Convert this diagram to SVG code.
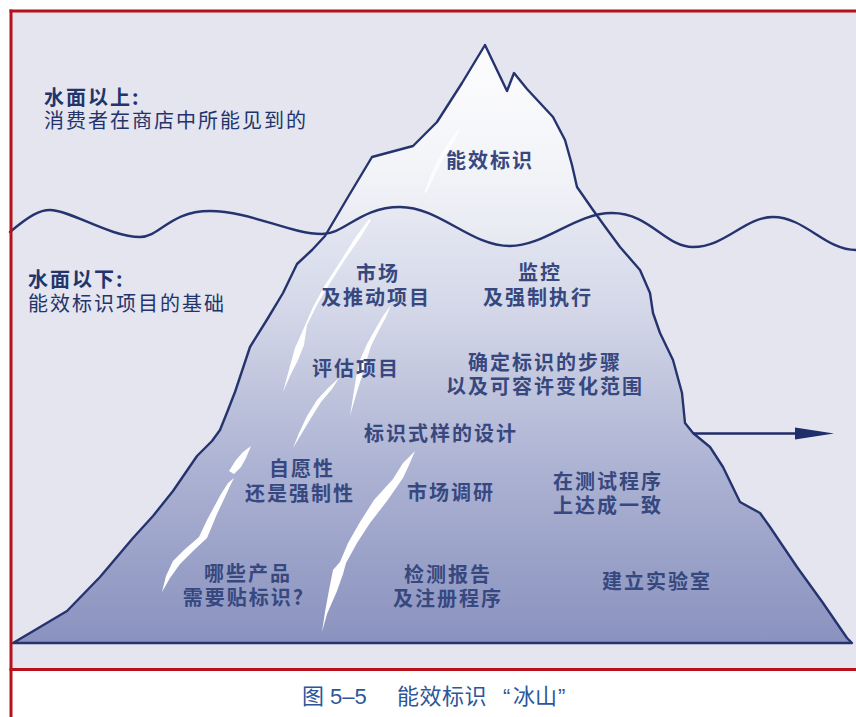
<svg xmlns="http://www.w3.org/2000/svg" width="856" height="717" viewBox="0 0 856 717">
  <defs>
    <style>
      .outline { fill: none; stroke: #25346f; stroke-width: 2.4; stroke-linejoin: round; stroke-linecap: round; }
      .head { font-family: "Noto Sans CJK SC", "Noto Sans", sans-serif; font-size: 20px; letter-spacing: 2px; fill: #23346c; }
      .lbl { font-family: "Noto Sans CJK SC", "Noto Sans", sans-serif; font-size: 20px; letter-spacing: 2px; font-weight: 700; fill: #37487f; text-anchor: middle; }
      .cap { font-family: "Liberation Sans", "Noto Sans CJK SC", sans-serif; font-size: 22px; fill: #2b579a; }
      .capcjk { font-family: "Noto Sans CJK SC", sans-serif; font-size: 22px; fill: #2b579a; }
      .streak { fill: #ffffff; }
    </style>
    <linearGradient id="under" x1="0" y1="200" x2="0" y2="643" gradientUnits="userSpaceOnUse">
      <stop offset="0" stop-color="#e8eaf3"/>
      <stop offset="0.25" stop-color="#d3d7e8"/>
      <stop offset="0.6" stop-color="#adb3d3"/>
      <stop offset="1" stop-color="#8a92bf"/>
    </linearGradient>
    <linearGradient id="above" x1="0" y1="45" x2="0" y2="250" gradientUnits="userSpaceOnUse">
      <stop offset="0" stop-color="#fdfdfe"/>
      <stop offset="0.6" stop-color="#f3f4f8"/>
      <stop offset="1" stop-color="#e6e8f1"/>
    </linearGradient>
    <clipPath id="airClip">
      <path d="M10,232 C30,215 40,210 50,210 C70,210 110,237 140,237 C160,237 170,211 210,211 C250,211 290,234 322,234 C345,234 360,207 400,207 C440,207 470,246 510,246 C545,246 575,213 612,213 C650,213 665,247 693,247 C725,247 745,217 773,217 C805,217 825,250 856,250 L856,0 L10,0 Z"/>
    </clipPath>
    <path id="bergShape" d="M13,643 L35,630 L67,611 L100,577 L133,538 L153,516 L173,491 L197,456 L212,441 L220,430 L228,410 L235,392 L250,347 L268,318 L283,293 L297,264 L312,250 L325,236 L348,197 L372,157 L413,146 L437,122 L462,83 L485,45 L507,91 L514,73 L527,89 L553,117 L565,140 L572,165 L577,187 L593,210 L606,228 L620,247 L640,270 L650,293 L653,313 L660,333 L673,360 L682,393 L685,423 L693,433 L710,447 L723,467 L740,502 L760,513 L770,527 L797,567 L823,603 L847,638 L852,643 Z"/>
  </defs>

  <!-- page and frame -->
  <rect x="0" y="0" width="856" height="717" fill="#ffffff"/>
  <rect x="11" y="11" width="845" height="658" fill="#e4e5ef"/>

  <!-- iceberg body: underwater tint, then the visible tip above the waterline -->
  <g id="iceberg">
    <use href="#bergShape" fill="url(#under)"/>
    <use href="#bergShape" fill="url(#above)" clip-path="url(#airClip)"/>
  </g>

  <!-- white cracks in the ice -->
  <g id="streaks">
    <path class="streak" opacity="0.75" d="M461,127 L450,140 L440,156 L432,172 L424,193 L427,192 L436,172 L445,155 L455,140 Z"/>
    <path class="streak" d="M369,219 L355,238 L340,262 L325,285 L313,307 L303,330 L295,348 L290,366 L283,392 L290,376 L298,360 L304,345 L307,325 L318,303 L332,280 L346,258 L360,238 L371,220 Z"/>
    <path class="streak" d="M391,305 L383,316 L376,328 L367,344 L360,360 L356,378 L350,416 L356,395 L362,376 L366,362 L371,346 L379,330 L386,317 Z"/>
    <path class="streak" d="M339,378 L328,388 L317,400 L307,416 L299,433 L293,448 L302,433 L311,418 L321,402 L332,389 Z"/>
    <path class="streak" d="M251,446 L243,452 L236,460 L229,471 L234,474 L241,467 L246,458 Z"/>
    <path class="streak" d="M234,478 L228,483 L221,494 L207,520 L199,537 L184,550 L173,561 L166,576 L162,592 L170,578 L180,564 L193,551 L207,538 L217,514 L225,497 L230,486 Z"/>
    <path class="streak" d="M415,451 L403,463 L393,479 L374,500 L360,522 L348,543 L340,562 L333,570 L329,590 L325,612 L322,632 L327,614 L337,591 L343,574 L346,563 L357,543 L370,523 L387,501 L403,478 L409,465 Z"/>
  </g>

  <!-- iceberg outline and waterline -->
  <g id="outlines">
    <use href="#bergShape" class="outline"/>
    <path class="outline" d="M10,232 C30,215 40,210 50,210 C70,210 110,237 140,237 C160,237 170,211 210,211 C250,211 290,234 322,234 C345,234 360,207 400,207 C440,207 470,246 510,246 C545,246 575,213 612,213 C650,213 665,247 693,247 C725,247 745,217 773,217 C805,217 825,250 856,250"/>
  </g>

  <!-- headings -->
  <g id="above-water">
    <text class="head" x="44" y="105" font-weight="700">水面以上:</text>
    <text class="head" x="44" y="128">消费者在商店中所能见到的</text>
  </g>
  <g id="below-water">
    <text class="head" x="28" y="287" font-weight="700">水面以下:</text>
    <text class="head" x="28" y="311">能效标识项目的基础</text>
  </g>

  <!-- labels -->
  <g id="energy-label"><text class="lbl" x="490" y="168">能效标识</text></g>
  <g id="market-promotion">
    <text class="lbl" x="378" y="281">市场</text>
    <text class="lbl" x="376" y="305">及推动项目</text>
  </g>
  <g id="monitoring">
    <text class="lbl" x="540" y="280">监控</text>
    <text class="lbl" x="538" y="305">及强制执行</text>
  </g>
  <g id="evaluation"><text class="lbl" x="356" y="376">评估项目</text></g>
  <g id="procedures">
    <text class="lbl" x="545" y="370">确定标识的步骤</text>
    <text class="lbl" x="545" y="394">以及可容许变化范围</text>
  </g>
  <g id="label-design"><text class="lbl" x="441" y="441">标识式样的设计</text></g>
  <g id="voluntary">
    <text class="lbl" x="302" y="476">自愿性</text>
    <text class="lbl" x="300" y="501">还是强制性</text>
  </g>
  <g id="market-research"><text class="lbl" x="451" y="500">市场调研</text></g>
  <g id="test-agreement">
    <text class="lbl" x="608" y="489">在测试程序</text>
    <text class="lbl" x="608" y="513">上达成一致</text>
  </g>
  <g id="which-products">
    <text class="lbl" x="248" y="581">哪些产品</text>
    <text class="lbl" x="244" y="605">需要贴标识?</text>
  </g>
  <g id="test-reports">
    <text class="lbl" x="448" y="582">检测报告</text>
    <text class="lbl" x="448" y="606">及注册程序</text>
  </g>
  <g id="laboratory"><text class="lbl" x="657" y="589">建立实验室</text></g>

  <!-- connector -->
  <g id="connectors">
    <line x1="693" y1="433.5" x2="800" y2="433.5" stroke="#1f2d6b" stroke-width="2.4"/>
    <polygon points="795,427.5 834,433.5 795,439.5" fill="#1f2d6b"/>
  </g>

  <!-- red frame rules -->
  <g id="frame" fill="#b7121c">
    <rect x="9.5" y="9.5" width="3" height="707.5"/>
    <rect x="9.5" y="9.5" width="846.5" height="3"/>
    <rect x="9.5" y="668" width="846.5" height="3"/>
  </g>

  <!-- caption -->
  <g id="caption">
    <text class="cap" x="302" y="704">图 5–5</text>
    <text class="capcjk" x="397" y="704" letter-spacing="0.5">能效标识</text>
    <text class="cap" x="503" y="704">“</text>
    <text class="capcjk" x="513" y="704">冰山</text>
    <text class="cap" x="558" y="704">”</text>
  </g>
</svg>
